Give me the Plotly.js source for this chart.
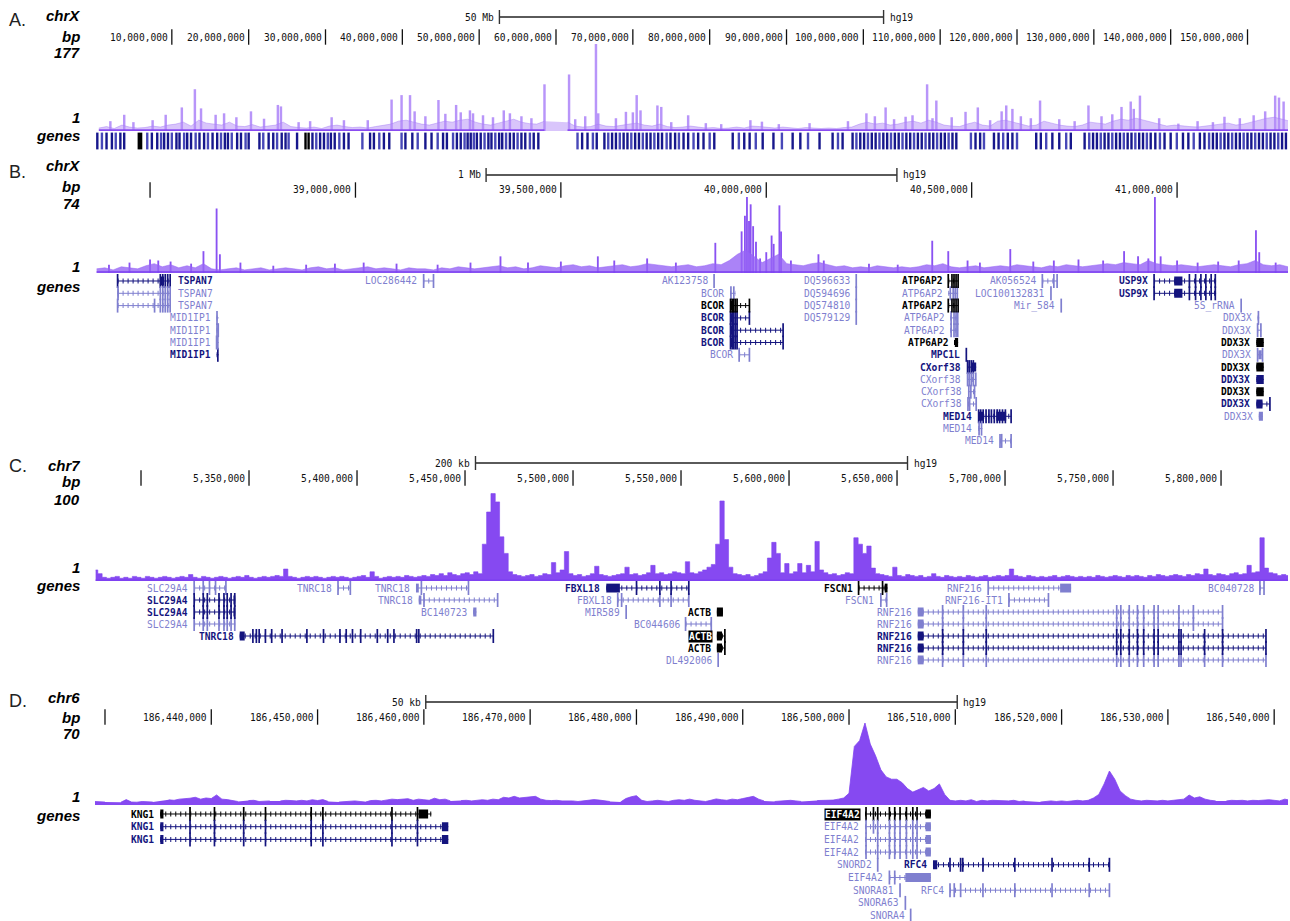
<!DOCTYPE html>
<html><head><meta charset="utf-8">
<script src="https://cdn.plot.ly/plotly-3.0.1.min.js"></script>
<style>html,body{margin:0;padding:0;background:#fff}#chart{width:1290px;height:921px}</style>
</head><body><div id="chart"></div>
<script>
// ================= DATA =================
// ---- Panel A : chrX, whole chromosome (Mb) ----
const A_chrom = 'chrX';
const A_range = [0, 155.27];
const A_scaleLen = 50, A_scaleLabel = '50 Mb';
const A_ticks = [10,20,30,40,50,60,70,80,90,100,110,120,130,140,150];
const A_tickLabels = ['10,000,000','20,000,000','30,000,000','40,000,000','50,000,000','60,000,000','70,000,000','80,000,000','90,000,000','100,000,000','110,000,000','120,000,000','130,000,000','140,000,000','150,000,000'];
const A_max = 177;
const A_binStart = 0.5, A_binStep = 1;
const A_bg = [
  6, 9, 5,12, 8, 6, 7,10, 8,12,
 14,18,10,22,16,14,12,18,10, 9,
 13, 8,10,12,18, 9, 7, 6, 8, 5,
 10,12, 9, 7, 8, 6, 9,12,14,20,
 22,18,14,12,16,20,18,22,24,18,
 14,12,16,20,24,18,15,14,20,null,
 null,18,10, 8, 9,14,10, 9,12,14,
 16,12,10,14, 9, 7, 8,10, 8, 6,
  7, 5, 6, 8, 6,10, 9, 7, 6, 8,
  6, 5, 7, 6, 5, 6, 5, 7, 8,14,
 18,14,16,12,14,18,20,16,22,18,
 12,10, 9,14,18,12,10,20,22,18,
 14,10,12,20,16,12,10, 9,12,18,
 16,14,20,24,22,26,22,18,14,10,
 12,10, 9, 8,10,12,14,16,12,14,
 18,22,26,28,24,20];
const A_peaks = [[2.0,20],[3.8,33],[5.0,18],[7.5,22],[9.2,33],[11.3,48],[13.0,85],[13.8,46],[15.7,33],[16.8,36],[18.4,28],[20.3,40],[22.0,25],[23.8,53],[24.2,50],[26.5,18],[28.0,20],[30.8,28],[32.4,22],[35.5,22],[38.6,64],[39.9,73],[41.0,73],[41.6,40],[43.0,30],[44.7,63],[45.6,35],[47.0,53],[47.6,38],[48.8,42],[49.2,36],[50.5,32],[51.8,28],[53.2,42],[54.0,36],[55.5,30],[56.8,26],[58.5,95],[61.7,115],[62.5,24],[63.8,30],[65.2,177],[65.5,36],[67.8,26],[69.1,39],[70.0,38],[70.5,73],[71.0,42],[73.2,52],[73.7,49],[75.0,18],[77.2,32],[79.5,16],[81.5,14],[85.3,22],[86.8,19],[89.0,14],[93.0,16],[98.0,20],[100.4,36],[101.5,30],[102.9,48],[104.0,24],[105.5,29],[106.4,32],[108.3,95],[109.0,26],[109.5,62],[111.5,28],[113.3,39],[114.9,48],[116.5,22],[118.0,40],[118.6,52],[119.4,45],[120.5,30],[121.8,26],[123.0,62],[125.5,24],[127.5,20],[129.3,52],[131.0,30],[132.4,34],[133.6,49],[134.8,60],[135.2,45],[136.0,72],[138.5,26],[141.0,15],[143.5,20],[145.5,18],[147.0,29],[149.0,26],[150.8,32],[152.3,40],[153.6,72],[154.1,68],[154.7,60]];
const A_genes = [0.3,0.9,1.5,2.2,2.7,3.3,3.8,6.8,7.4,8.1,8.6,9.0,9.5,10.0,10.6,11.0,11.6,12.0,12.5,13.1,13.6,14.2,14.7,15.3,15.9,16.4,16.9,17.3,17.8,18.5,19.0,19.6,20.0,21.4,21.9,22.6,23.2,23.7,24.3,24.8,25.2,26.3,28.3,28.8,29.3,29.8,30.3,30.7,31.2,31.8,32.4,33.0,34.8,35.8,36.3,37.0,37.6,38.3,39.9,40.4,41.3,42.0,43.0,43.8,44.6,45.3,45.8,46.6,47.1,47.6,48.1,48.5,48.9,49.3,49.7,50.2,50.7,51.2,51.6,52.1,52.6,53.0,53.5,54.0,54.5,55.0,55.5,56.0,56.6,57.1,57.7,62.8,63.4,64.1,64.8,65.3,66.3,66.8,67.3,67.8,68.3,68.8,69.3,69.8,70.3,70.8,71.3,71.8,72.3,72.8,73.3,73.8,74.4,74.9,75.5,76.0,76.6,77.2,77.9,78.5,79.2,80.0,80.6,83.0,83.8,84.5,85.2,86.0,86.9,88.3,89.4,90.8,91.8,92.8,94.3,96.0,96.7,97.3,98.6,99.1,99.6,100.1,100.6,101.1,101.6,102.1,102.6,103.1,103.6,104.1,104.6,105.1,105.6,106.1,106.6,107.1,107.6,108.1,108.6,109.1,109.6,110.1,110.6,111.1,111.6,112.1,114.0,114.6,115.2,115.7,117.0,117.6,118.2,118.8,119.4,120.0,122.5,123.1,123.8,124.6,125.5,126.4,127.0,128.8,129.4,129.9,130.4,130.9,131.4,131.9,132.4,132.9,133.4,133.9,134.4,134.9,135.4,135.9,136.4,136.9,137.4,138.0,138.6,139.2,140.0,140.8,141.6,142.3,143.0,143.8,144.4,145.0,145.5,146.0,146.5,147.0,147.5,148.0,148.5,149.0,149.5,150.0,150.5,151.0,151.5,152.0,152.5,153.0,153.5,154.0,154.5,155.0];
const A_genesRef = [5.7,6.0,27.4,27.8];

// ---- Panel B : chrX 38.37-41.27 Mb ----
const B_chrom = 'chrX';
const B_range = [38.366, 41.27];
const B_scaleLen = 1, B_scaleLabel = '1 Mb';
const B_ticks = [38.5,39.0,39.5,40.0,40.5,41.0];
const B_tickLabels = ['','39,000,000','39,500,000','40,000,000','40,500,000','41,000,000'];
const B_max = 74;
const B_binStart = 38.37, B_binStep = 0.02;
const B_bg = [
 4,5,3,6,5,4,7,9,6,8,
 5,7,5,9,4,3,4,5,3,4,
 5,3,4,5,4,3,5,6,4,5,
 3,4,5,6,4,5,4,3,5,4,
 4,3,5,4,6,5,4,5,6,7,
 5,6,4,5,7,6,5,7,8,6,
 7,5,6,7,8,6,7,9,8,7,
 6,7,8,6,7,9,8,12,18,22,
 16,10,14,18,9,8,7,9,10,8,
 6,7,5,6,5,7,6,5,6,5,
 6,8,7,9,6,5,6,7,5,6,
 7,6,8,7,6,5,7,6,8,7,
 6,7,8,9,8,10,9,8,12,9,
 8,7,8,7,6,7,8,7,6,8,
 9,12,8,7,8,6];
const B_peaks = [[38.40,8],[38.45,10],[38.50,13],[38.52,12],[38.55,11],[38.60,9],[38.63,21],[38.662,62],[38.67,18],[38.72,10],[38.80,7],[38.88,8],[38.95,9],[39.02,10],[39.10,9],[39.20,8],[39.28,10],[39.353,16],[39.42,10],[39.50,11],[39.59,16],[39.63,12],[39.71,14],[39.78,10],[39.876,29],[39.94,40],[39.948,55],[39.953,73],[39.958,50],[39.962,66],[39.968,45],[39.975,30],[39.985,14],[40.0,20],[40.013,36],[40.018,28],[40.032,65],[40.036,40],[40.06,12],[40.127,18],[40.14,12],[40.25,9],[40.32,8],[40.404,31],[40.443,21],[40.49,12],[40.52,10],[40.594,23],[40.65,11],[40.70,12],[40.76,13],[40.82,12],[40.871,21],[40.905,16],[40.93,14],[40.946,73],[40.96,16],[41.00,12],[41.05,10],[41.10,11],[41.15,12],[41.192,41],[41.20,20],[41.24,10]];
// [name, row, start, end, class, exons, thick blocks, label side]
const B_genes = [
 ['TSPAN7',0,38.421,38.550,'known',[38.421,38.525,38.531,38.537,38.543,38.549],[[38.524,38.534]],'R'],
 ['TSPAN7',1,38.421,38.550,'pred',[38.422,38.525,38.531,38.537,38.543,38.549],[[38.421,38.424]],'R'],
 ['TSPAN7',2,38.421,38.550,'pred',[38.421,38.511,38.525,38.531,38.537,38.543,38.549],[],'R'],
 ['MID1IP1',3,38.662,38.667,'pred',[38.663],[]],
 ['MID1IP1',4,38.662,38.667,'pred',[38.663,38.666],[]],
 ['MID1IP1',5,38.662,38.667,'pred',[38.662,38.665],[]],
 ['MID1IP1',6,38.662,38.667,'known',[38.665],[]],
 ['LOC286442',0,39.165,39.190,'pred',[39.166,39.190],[]],
 ['AK123758',0,39.873,39.873,'pred',[39.873],[]],
 ['BCOR',1,39.912,39.925,'pred',[39.914,39.921],[]],
 ['BCOR',2,39.912,39.959,'ref',[39.913,39.917,39.921,39.925,39.929,39.959],[[39.912,39.919]]],
 ['BCOR',3,39.912,39.959,'known',[39.913,39.917,39.921,39.925,39.929,39.959],[[39.912,39.919]]],
 ['BCOR',4,39.912,40.041,'known',[39.913,39.917,39.921,39.925,39.929,40.041],[[39.912,39.919]]],
 ['BCOR',5,39.912,40.041,'known',[39.913,39.917,39.921,39.925,39.929,40.041],[[39.912,39.919]]],
 ['BCOR',6,39.934,39.959,'pred',[39.934,39.959],[]],
 ['DQ596633',0,40.219,40.219,'pred',[40.219],[]],
 ['DQ594696',1,40.219,40.219,'pred',[40.219],[]],
 ['DQ574810',2,40.219,40.219,'pred',[40.219],[]],
 ['DQ579129',3,40.219,40.219,'pred',[40.219],[]],
 ['ATP6AP2',0,40.443,40.467,'ref',[40.443,40.452,40.457,40.462,40.467],[]],
 ['ATP6AP2',1,40.443,40.467,'pred',[40.448,40.455,40.460,40.465],[]],
 ['ATP6AP2',2,40.443,40.467,'ref',[40.443,40.452,40.457,40.462,40.467],[]],
 ['ATP6AP2',3,40.448,40.467,'pred',[40.450,40.457,40.462,40.466],[]],
 ['ATP6AP2',4,40.448,40.467,'pred',[40.450,40.457,40.462,40.466],[]],
 ['ATP6AP2',5,40.457,40.467,'ref',[],[[40.459,40.467]]],
 ['MPC1L',6,40.487,40.487,'known',[40.487],[]],
 ['CXorf38',7,40.489,40.511,'known',[40.490,40.494,40.499,40.504],[[40.500,40.511]]],
 ['CXorf38',8,40.489,40.511,'pred',[40.490,40.494,40.499,40.504,40.510],[]],
 ['CXorf38',9,40.491,40.509,'pred',[40.493,40.498,40.507],[]],
 ['CXorf38',10,40.491,40.511,'pred',[40.491,40.495,40.511],[]],
 ['MED14',11,40.516,40.596,'known',[40.517,40.522,40.528,40.535,40.542,40.548,40.555,40.562,40.568,40.575,40.582,40.596],[[40.516,40.530],[40.560,40.584]]],
 ['MED14',12,40.516,40.526,'pred',[40.518,40.524],[]],
 ['MED14',13,40.569,40.596,'pred',[40.569,40.573,40.596],[]],
 ['AK056524',0,40.672,40.708,'pred',[40.672,40.700,40.708],[]],
 ['LOC100132831',1,40.693,40.693,'pred',[40.693],[]],
 ['Mir_584',2,40.718,40.718,'pred',[40.718],[]],
 ['USP9X',0,40.944,41.095,'known',[40.944,41.030,41.045,41.058,41.070,41.083,41.093],[[40.993,41.013]]],
 ['USP9X',1,40.944,41.095,'known',[40.944,41.030,41.045,41.058,41.070,41.083,41.093],[[40.993,41.013]]],
 ['5S_rRNA',2,41.156,41.156,'pred',[41.156],[]],
 ['DDX3X',3,41.196,41.200,'pred',[41.198],[]],
 ['DDX3X',4,41.195,41.205,'pred',[41.196,41.204],[]],
 ['DDX3X',5,41.193,41.211,'ref',[],[[41.193,41.211]]],
 ['DDX3X',6,41.195,41.209,'pred',[41.196,41.208],[[41.198,41.206]]],
 ['DDX3X',7,41.193,41.211,'ref',[],[[41.193,41.211]]],
 ['DDX3X',8,41.193,41.211,'known',[],[[41.193,41.211]]],
 ['DDX3X',9,41.193,41.211,'ref',[],[[41.193,41.211]]],
 ['DDX3X',10,41.193,41.226,'known',[41.226],[[41.193,41.208]]],
 ['DDX3X',11,41.199,41.209,'pred',[],[[41.199,41.209]]]
];

// ---- Panel C : chr7 5,278,700-5,831,000 (kb) ----
const C_chrom = 'chr7';
const C_range = [5278.7, 5831.0];
const C_scaleLen = 200, C_scaleLabel = '200 kb';
const C_ticks = [5300,5350,5400,5450,5500,5550,5600,5650,5700,5750,5800];
const C_tickLabels = ['','5,350,000','5,400,000','5,450,000','5,500,000','5,550,000','5,600,000','5,650,000','5,700,000','5,750,000','5,800,000'];
const C_max = 100;
const C_binStart = 5279, C_binStep = 2;
const C_sig = [
 12,8,4,3,4,5,3,4,3,5,
 4,3,5,4,3,4,5,4,3,4,
 5,4,7,4,3,5,4,3,4,5,
 4,3,4,5,4,6,4,3,4,5,
 4,5,6,5,13,5,4,3,4,5,
 4,5,4,3,4,5,4,5,4,3,
 4,5,6,4,10,5,3,4,5,4,
 5,4,6,5,4,5,6,5,7,6,
 8,6,9,7,6,8,9,7,10,8,
 40,75,95,86,48,30,10,7,6,5,
 6,7,5,6,8,7,20,9,12,32,
 8,6,7,5,6,8,16,7,6,5,
 6,7,8,15,7,8,6,7,9,17,
 8,9,7,8,10,9,8,21,9,8,
 10,12,15,18,40,87,45,15,8,7,
 6,7,5,6,8,10,25,42,30,9,
 19,8,10,19,9,17,10,43,12,9,
 7,8,6,7,9,8,47,40,30,38,
 14,8,7,6,5,15,6,5,7,6,
 5,6,4,5,8,5,4,6,5,4,
 5,4,6,5,4,5,6,4,5,6,
 5,6,13,6,5,4,6,5,4,5,
 4,5,6,4,5,6,5,4,5,4,
 5,4,6,5,4,5,6,5,4,6,
 5,6,5,4,6,5,7,6,5,6,
 7,6,5,7,6,8,7,13,7,6,
 8,7,6,8,9,7,8,17,9,10,
 47,14,9,8,6,7,6];
const C_genes = [
 ['SLC29A4',0,5324.6,5339.3,'pred',[5324.6,5328.8,5331.7,5334.5,5339.3],[]],
 ['SLC29A4',1,5324.6,5343.6,'known',[5324.6,5328.8,5330.7,5336.1,5338.4,5339.9,5341.7,5343.4],[[5342.8,5343.6]]],
 ['SLC29A4',2,5324.6,5343.6,'known',[5324.6,5328.8,5330.7,5336.1,5338.4,5339.9,5341.7,5343.4],[[5342.8,5343.6]]],
 ['SLC29A4',3,5324.6,5343.6,'pred',[5324.6,5328.8,5330.7,5336.1,5338.4,5339.9,5341.7,5343.4],[]],
 ['TNRC18',0,5391.2,5396.9,'pred',[5391.2,5396.9],[]],
 ['TNRC18',0,5427.3,5451.6,'pred',[5429.8,5451.6],[[5427.3,5428.6]]],
 ['TNRC18',1,5428.6,5465.1,'pred',[5431.0,5465.1],[[5428.6,5429.8]]],
 ['TNRC18',4,5345.7,5463.1,'known',[5351.8,5353.4,5354.7,5357.6,5360.5,5365.3,5376.8,5384.5,5392.1,5395.0,5397.9,5401.7,5409.4,5414.2,5417.1,5427.6,5428.6,5463.1],[[5345.7,5348.0]]],
 ['BC140723',2,5453.8,5455.3,'pred',[],[[5453.8,5455.3]]],
 ['FBXL18',0,5515.4,5553.6,'known',[5529.4,5540.2,5545.4,5553.6],[[5515.4,5521.7]]],
 ['FBXL18',1,5520.7,5553.6,'pred',[5520.7,5522.5,5540.2,5545.4,5553.6],[]],
 ['MIR589',2,5524.6,5524.6,'pred',[5524.6],[]],
 ['BC044606',3,5552.1,5564.0,'pred',[5552.1,5564.0],[]],
 ['ACTB',2,5566.6,5569.4,'ref',[],[[5566.6,5569.4]]],
 ['ACTB',4,5566.6,5570.3,'sel',[5570.3],[[5566.6,5569.0]]],
 ['ACTB',5,5566.6,5570.3,'ref',[5570.3],[[5566.6,5569.0]]],
 ['DL492006',6,5567.2,5567.2,'pred',[5567.2],[]],
 ['FSCN1',0,5632.2,5645.6,'ref',[5632.2,5643.3],[[5644.3,5645.6]]],
 ['FSCN1',1,5642.3,5645.6,'pred',[5642.5,5645.2],[]],
 ['RNF216',0,5692.2,5730.6,'pred',[5692.2],[[5725.5,5730.6]]],
 ['RNF216-IT1',1,5701.8,5720.1,'pred',[5701.8,5720.1],[]],
 ['RNF216',2,5659.6,5800.7,'pred',[5671.1,5680.7,5691.3,5751.7,5753.6,5757.5,5761.3,5764.2,5769.0,5770.9,5780.5,5787.2,5800.7],[[5659.6,5662.3]]],
 ['RNF216',3,5659.6,5800.7,'pred',[5671.1,5680.7,5691.3,5751.7,5753.6,5757.5,5761.3,5764.2,5769.0,5770.9,5780.5,5787.2,5800.7],[[5659.6,5662.3]]],
 ['RNF216',4,5659.6,5820.8,'known',[5671.1,5680.7,5691.3,5751.7,5753.6,5757.5,5761.3,5764.2,5769.0,5770.9,5780.5,5781.5,5792.4,5800.7,5820.8],[[5659.6,5662.3]]],
 ['RNF216',5,5659.6,5820.8,'known',[5671.1,5680.7,5691.3,5751.7,5753.6,5757.5,5761.3,5764.2,5769.0,5770.9,5780.5,5781.5,5792.4,5800.7,5820.8],[[5659.6,5662.3]]],
 ['RNF216',6,5659.6,5820.8,'pred',[5671.1,5680.7,5691.3,5751.7,5753.6,5757.5,5761.3,5764.2,5769.0,5770.9,5780.5,5781.5,5792.4,5800.7,5820.8],[[5659.6,5662.3]]],
 ['BC040728',0,5818.0,5819.9,'pred',[5818.0,5819.9],[]]
];

// ---- Panel D : chr6 186,429,060-186,541,300 (kb) ----
const D_chrom = 'chr6';
const D_range = [186429.06, 186541.3];
const D_scaleLen = 50, D_scaleLabel = '50 kb';
const D_ticks = [186430,186440,186450,186460,186470,186480,186490,186500,186510,186520,186530,186540];
const D_tickLabels = ['','186,440,000','186,450,000','186,460,000','186,470,000','186,480,000','186,490,000','186,500,000','186,510,000','186,520,000','186,530,000','186,540,000'];
const D_max = 70;
const D_binStart = 186429, D_binStep = 0.5;
const D_sig = [
 3,3,2.5,null,null,2.4,4.6,2.5,2.4,3,
 3,2.5,null,null,4.4,4,5,5.2,5.8,6.6,
 5,6,5.5,8.6,5,4.6,3.8,3,null,3.8,
 4,3,3,3.5,null,3.5,4,3.8,3.5,4,
 3.5,4.5,3.8,4.6,3,null,2.5,3,3.5,3.5,
 3,2.5,3.8,4,3.5,4,5,4.6,5,5.4,
 4,5,4.5,4,5.8,4.5,5,3.5,null,3.8,
 4,3.5,4,4.5,4,5,4.5,6.6,6,7.4,
 6,6.5,7,7.4,5,4,3.8,4,3.5,3.8,
 3.5,3,3.5,4,4.6,4.2,3.5,3,null,2.5,
 5.5,7,8,4,3,3.5,4,3.5,3,4,
 4.5,4,5,4,3.5,3,4,5.2,4.5,4,
 5,4.5,5.5,6.5,7.4,5,3.5,null,3,3.5,
 3.5,4,3.5,3,null,null,3.8,4,3.8,4.2,
 5,6,10,50,55,70,52,42,30,24,
 22,22,19,14,11,13,15,12,14,18,
 9,4,3.5,4,3.5,4.5,3,4,3.5,4,
 3.8,4.2,3.5,4,3,3.5,null,null,2.5,3,
 3.5,3,3.5,3,3.8,4,3.5,4,6,9,
 18,29,22,12,8,5,4,3.5,4,3.5,
 3.5,4,3.5,4,4.5,5,8.5,6,7,5,
 4,3.5,null,3.5,4,3.8,4,3.5,4,3.8,
 4.2,4.5,4,3.5,5,4];
const D_genes = [
 ['KNG1',0,186435.2,186460.7,'ref',[186438.0,186440.3,186443.05,186445.1,186449.4,186450.5,186457.0,186459.4],[[186435.2,186435.5],[186459.5,186460.4]]],
 ['KNG1',1,186435.2,186462.3,'known',[186438.0,186440.3,186443.05,186445.1,186449.4,186450.5,186457.0,186459.4],[[186435.2,186435.5],[186461.7,186462.3]]],
 ['KNG1',2,186435.2,186462.3,'known',[186438.0,186440.3,186443.05,186445.1,186449.4,186450.5,186457.0,186459.4],[[186435.2,186435.5],[186461.7,186462.3]]],
 ['EIF4A2',0,186501.5,186507.7,'sel',[186501.6,186502.3,186502.7,186503.8,186504.3,186504.8,186505.4,186506.0,186506.4],[[186507.2,186507.7]]],
 ['EIF4A2',1,186501.5,186507.7,'pred',[186501.6,186502.3,186502.7,186503.8,186504.3,186504.8,186505.4,186506.0,186506.4],[[186507.2,186507.7]]],
 ['EIF4A2',2,186501.5,186507.7,'pred',[186501.6,186502.7,186503.8,186504.3,186504.8,186505.4,186506.0,186506.4],[[186507.2,186507.7]]],
 ['EIF4A2',3,186501.5,186507.7,'pred',[186501.6,186502.7,186503.8,186504.3,186504.8,186505.4,186506.0,186506.4],[[186507.2,186507.7]]],
 ['SNORD2',4,186502.7,186502.7,'pred',[186502.7],[]],
 ['RFC4',4,186507.9,186524.5,'known',[186509.5,186510.5,186510.7,186512.6,186515.6,186519.1,186522.6,186524.5],[[186507.9,186508.3]]],
 ['EIF4A2',5,186503.8,186507.7,'pred',[186503.8,186504.3],[[186505.3,186507.7]]],
 ['SNORA81',6,186504.8,186504.8,'pred',[186504.8],[]],
 ['RFC4',6,186509.5,186524.5,'pred',[186509.5,186509.9,186510.5,186512.6,186515.6,186519.1,186522.6,186524.5],[]],
 ['SNORA63',7,186505.3,186505.3,'pred',[186505.3],[]],
 ['SNORA4',8,186505.8,186505.8,'pred',[186505.8],[]]
];

// ================= DRAWING =================
const W = 1290, H = 921, XL = 95, XR = 1288;
const yp = px => 1 - px / H;
const MONO = 'DejaVu Sans Mono', SANS = 'Liberation Sans';
const CLS = {
  ref:   {c:'#000000', b:true},
  known: {c:'#14147e', b:true},
  pred:  {c:'#7f7fcf', b:false},
  sel:   {c:'#000000', b:true, inv:true}
};

const PANELS = [
 {letter:'A.', chrom:A_chrom, range:A_range, ticks:A_ticks, tickLabels:A_tickLabels, max:A_max, scaleLen:A_scaleLen, scaleLabel:A_scaleLabel,
  sig:{start:A_binStart, step:A_binStep, vals:A_bg, peaks:A_peaks}, genes:null,
  L:{scaleY:17, tickY:37, sigTop:44, sigBot:131, row0:141, rowH:12, nRows:1, frame:[10,150],
     lab:{letter:20, chrom:15, bp:36, max:52, one:117, genes:135}},
  S:{fill:'rgba(180,140,248,0.5)', line:'rgba(165,122,245,0.75)', lw:0.6, shape:'linear', peak:'rgba(172,130,248,0.85)', pw:0.32, floor:'#8a4cf0', fw:2.6}},
 {letter:'B.', chrom:B_chrom, range:B_range, ticks:B_ticks, tickLabels:B_tickLabels, max:B_max, scaleLen:B_scaleLen, scaleLabel:B_scaleLabel,
  sig:{start:B_binStart, step:B_binStep, vals:B_bg, peaks:B_peaks}, genes:B_genes,
  L:{scaleY:175, tickY:190, sigTop:196, sigBot:273, row0:281, rowH:12.3, nRows:14, frame:[165,447],
     lab:{letter:172, chrom:166, bp:187, max:203, one:266, genes:286}},
  S:{fill:'rgba(150,100,245,0.8)', line:'#9460f4', lw:0.5, shape:'linear', peak:'#8a52f2', pw:0.0045, floor:'#7b3ff0', fw:1.6}},
 {letter:'C.', chrom:C_chrom, range:C_range, ticks:C_ticks, tickLabels:C_tickLabels, max:C_max, scaleLen:C_scaleLen, scaleLabel:C_scaleLabel,
  sig:{start:C_binStart, step:C_binStep, vals:C_sig, peaks:null}, genes:C_genes,
  L:{scaleY:463, tickY:478, sigTop:489, sigBot:581, row0:588, rowH:12, nRows:7, frame:null,
     lab:{letter:466, chrom:465, bp:481, max:499, one:567, genes:585}},
  S:{fill:'#8649f1', line:'#8044f0', lw:0.6, shape:'hvh', floor:'#7b3ff0', fw:1.4}},
 {letter:'D.', chrom:D_chrom, range:D_range, ticks:D_ticks, tickLabels:D_tickLabels, max:D_max, scaleLen:D_scaleLen, scaleLabel:D_scaleLabel,
  sig:{start:D_binStart, step:D_binStep, vals:D_sig, peaks:null}, genes:D_genes,
  L:{scaleY:702, tickY:717, sigTop:723, sigBot:805, row0:814, rowH:12.7, nRows:9, frame:null,
     lab:{letter:701, chrom:697, bp:717, max:733, one:796, genes:815}},
  S:{fill:'#8649f1', line:'#8044f0', lw:0.8, shape:'linear', floor:null}}
];

const xid = p => p === 0 ? 'x' : 'x' + (p + 1);
const yid = (p, k) => { const n = p * 4 + k; return n === 1 ? 'y' : 'y' + n; };
const lkey = id => id.replace(/^x/, 'xaxis').replace(/^y/, 'yaxis');

const traces = [], annotations = [];
const layout = {
  width: W, height: H, margin: {l:0, r:0, t:0, b:0}, paper_bgcolor:'#fff', plot_bgcolor:'rgba(0,0,0,0)',
  showlegend:false, hovermode:false, barmode:'overlay', font:{family:MONO, size:10, color:'#000'}
};
const hidden = {visible:false, fixedrange:true, showgrid:false, zeroline:false};

function leftLabel(text, ypx, opts) {
  annotations.push(Object.assign({xref:'paper', yref:'paper', x:82 / W, y:yp(ypx), xanchor:'right', yanchor:'middle',
    showarrow:false, text:text, font:{family:SANS, size:15, color:'#000'}}, opts || {}));
}

PANELS.forEach((P, p) => {
  const xa = xid(p), yR = yid(p,1), yS = yid(p,2), yG = yid(p,3), yF = yid(p,4);
  const L = P.L, S = P.S;
  const pad = 0.4;
  layout[lkey(xa)] = Object.assign({}, hidden, {domain:[XL / W, XR / W], range:P.range, anchor:yS});
  const rH = L.tickY - L.scaleY;
  layout[lkey(yR)] = Object.assign({}, hidden, {domain:[yp(L.tickY + rH * 0.5), yp(L.scaleY - rH * 0.5)], range:[-0.5, 1.5], anchor:xa});
  layout[lkey(yS)] = Object.assign({}, hidden, {domain:[yp(L.sigBot), yp(L.sigTop)], range:[0, P.max], anchor:xa});
  layout[lkey(yG)] = Object.assign({}, hidden, {domain:[yp(L.row0 + (L.nRows - 1 + pad) * L.rowH), yp(L.row0 - pad * L.rowH)], range:[L.nRows - 1 + pad, -pad], anchor:xa});
  if (L.frame) {
    layout[lkey(yF)] = {domain:[yp(L.frame[1]), yp(L.frame[0])], range:[0, 1], showline:true, linecolor:'#d4d4d4', linewidth:1,
      showticklabels:false, ticks:'', showgrid:false, zeroline:false, anchor:xa, fixedrange:true};
  } else {
    layout[lkey(yF)] = Object.assign({}, hidden, {domain:[0, 0.01], range:[0,1], anchor:xa});
  }

  // ---- left labels ----
  annotations.push({xref:'paper', yref:'paper', x:7 / W, y:yp(L.lab.letter), xanchor:'left', yanchor:'middle', showarrow:false,
    text:P.letter, font:{family:SANS, size:18, color:'#222'}});
  leftLabel('<b><i>' + P.chrom + '</i></b>', L.lab.chrom);
  leftLabel('<b><i>bp</i></b>', L.lab.bp);
  leftLabel('<b><i>' + P.max + '</i></b>', L.lab.max);
  leftLabel('<b><i>1</i></b>', L.lab.one);
  leftLabel('<b><i>genes</i></b>', L.lab.genes);

  // ---- ruler: scale bar ----
  const c = (P.range[0] + P.range[1]) / 2, s0 = c - P.scaleLen / 2, s1 = c + P.scaleLen / 2;
  traces.push({type:'scatter', x:[s0, s1], y:[1, 1], mode:'lines', line:{color:'#5a5a5a', width:2.2}, xaxis:xa, yaxis:yR, hoverinfo:'skip'});
  traces.push({type:'scatter', x:[s0, s1], y:[1, 1], mode:'markers', cliponaxis:false,
    marker:{symbol:'line-ns', size:10, line:{color:'#333', width:1.4}}, xaxis:xa, yaxis:yR, hoverinfo:'skip'});
  annotations.push({xref:xa, yref:yR, x:s0, y:1, xanchor:'right', yanchor:'middle', xshift:-3, showarrow:false,
    text:P.scaleLabel, font:{family:MONO, size:9.6, color:'#111'}});
  annotations.push({xref:xa, yref:yR, x:s1, y:1, xanchor:'left', yanchor:'middle', xshift:4, showarrow:false,
    text:'hg19', font:{family:MONO, size:9.6, color:'#111'}});
  // ---- ruler: ticks ----
  traces.push({type:'scatter', x:P.ticks, y:P.ticks.map(() => 0), mode:'markers', cliponaxis:false,
    marker:{symbol:'line-ns', size:11, line:{color:'#111', width:1.3}}, xaxis:xa, yaxis:yR, hoverinfo:'skip'});
  P.ticks.forEach((t, i) => {
    if (!P.tickLabels[i]) return;
    annotations.push({xref:xa, yref:yR, x:t, y:0, xanchor:'right', yanchor:'middle', xshift:-2, showarrow:false,
      text:P.tickLabels[i], font:{family:MONO, size:9.6, color:'#111'}});
  });

  // ---- signal ----
  const xs = P.sig.vals.map((v, i) => P.sig.start + i * P.sig.step);
  traces.push({type:'scatter', x:xs, y:P.sig.vals, mode:'lines', fill:'tozeroy', fillcolor:S.fill, connectgaps:false,
    line:{color:S.line, width:S.lw, shape:S.shape}, xaxis:xa, yaxis:yS, hoverinfo:'skip'});
  if (P.sig.peaks) {
    traces.push({type:'bar', x:P.sig.peaks.map(d => d[0]), y:P.sig.peaks.map(d => d[1]), width:S.pw,
      marker:{color:S.peak, line:{width:0}}, xaxis:xa, yaxis:yS, hoverinfo:'skip'});
  }
  if (S.floor) {
    traces.push({type:'scatter', x:xs, y:P.sig.vals.map(v => v == null ? null : 1), mode:'lines', connectgaps:false,
      line:{color:S.floor, width:S.fw}, xaxis:xa, yaxis:yS, hoverinfo:'skip'});
  }

  // ---- genes ----
  if (!P.genes) {
    traces.push({type:'scatter', x:A_genes, y:A_genes.map(() => 0), mode:'markers', cliponaxis:false,
      marker:{symbol:'line-ns', size:12, line:{width:2.4, color:A_genes.map((g, i) => i % 3 === 1 ? '#4848b8' : '#17178c')}},
      xaxis:xa, yaxis:yG, hoverinfo:'skip'});
    traces.push({type:'scatter', x:A_genesRef, y:A_genesRef.map(() => 0), mode:'markers', cliponaxis:false,
      marker:{symbol:'line-ns', size:12, line:{width:2.4, color:'#000'}}, xaxis:xa, yaxis:yG, hoverinfo:'skip'});
    return;
  }
  const groups = {};
  P.genes.forEach(g => {
    const [name, row, s, e, cls, ex, blk, side] = g;
    const G = groups[cls] || (groups[cls] = {lx:[], ly:[], ex:[], ey:[], bx:[], by:[]});
    if (e > s) { G.lx.push(s, e, null); G.ly.push(row, row, null); }
    (ex || []).forEach(x => { G.ex.push(x); G.ey.push(row); });
    (blk || []).forEach(b => { G.bx.push(b[0], b[1], null); G.by.push(row, row, null); });
    const st = CLS[cls];
    const right = side === 'R';
    const txt = st.b ? '<b>' + name + '</b>' : name;
    const ann = {xref:xa, yref:yG, x:right ? e : s, y:row, xanchor:right ? 'left' : 'right', yanchor:'middle',
      xshift:right ? 5 : -4, showarrow:false, text:txt, font:{family:MONO, size:9.6, color:st.c}};
    if (st.inv) { ann.bgcolor = '#000'; ann.font = {family:MONO, size:9.6, color:'#fff'}; ann.borderpad = 0; }
    annotations.push(ann);
  });
  Object.keys(groups).forEach(cls => {
    const G = groups[cls], col = CLS[cls].c;
    traces.push({type:'scatter', x:G.lx, y:G.ly, mode:'lines', line:{color:col, width:1}, xaxis:xa, yaxis:yG, hoverinfo:'skip', connectgaps:false});
    traces.push({type:'scatter', x:G.lx, y:G.ly, mode:'lines', line:{color:col, width:5, dash:'1px,4px'}, xaxis:xa, yaxis:yG, hoverinfo:'skip', connectgaps:false});
    traces.push({type:'scatter', x:G.bx, y:G.by, mode:'lines', line:{color:col, width:9}, xaxis:xa, yaxis:yG, hoverinfo:'skip', connectgaps:false});
    traces.push({type:'scatter', x:G.ex, y:G.ey, mode:'markers', cliponaxis:false,
      marker:{symbol:'line-ns', size:10, line:{color:col, width:1.7}}, xaxis:xa, yaxis:yG, hoverinfo:'skip'});
  });
});

layout.annotations = annotations;
Plotly.newPlot('chart', traces, layout, {staticPlot:true, displayModeBar:false});
</script>
</body></html>
